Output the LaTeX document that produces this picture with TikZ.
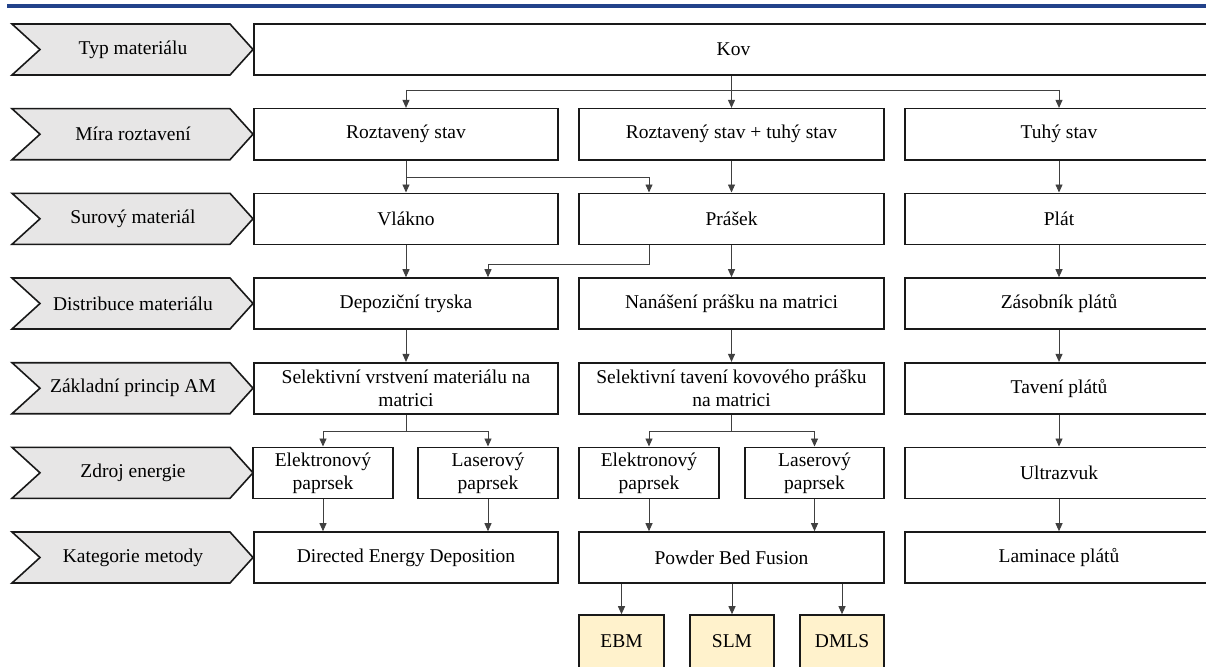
\documentclass[tikz,border=0pt]{standalone}
\usepackage{fontspec}
\setmainfont{Liberation Serif}
\usetikzlibrary{arrows.meta,calc}
\definecolor{chevgray}{HTML}{E7E6E6}
\definecolor{methyellow}{HTML}{FFF2CC}
\definecolor{topblue}{HTML}{22428A}
\begin{document}
\begin{tikzpicture}[x=1pt,y=-1pt,
  font=\fontsize{19.5}{23}\selectfont,
  box/.style={draw=black!90, line width=1.6pt, fill=white, minimum height=51pt, inner sep=2pt, align=center},
  chev/.style={draw=black!90, line width=1.6pt, fill=chevgray, line join=miter},
  conn/.style={draw=black!75, line width=0.9pt},
  arr/.style={conn, -{Triangle[width=7pt,length=8pt]}},
  meth/.style={box, fill=methyellow, minimum height=53pt}]
\useasboundingbox (0,0) rectangle (1206,666);
\clip (0,0) rectangle (1206,666);
\fill[white] (0,0) rectangle (1206,666);
% top rule
\draw[topblue, line width=4pt] (7,6) -- (1206,6);
% chevrons
\foreach \i/\t/\txt in {1/24/Typ materiálu, 2/108.7/Míra roztavení, 3/193.3/Surový materiál,
  4/278/Distribuce materiálu, 5/362.7/Základní princip AM, 6/447.3/Zdroj energie, 7/532/Kategorie metody}{
  \draw[chev] (12,\t) -- (230,\t) -- (253,\t+25.5) -- (230,\t+51) -- (12,\t+51) -- (40,\t+25.5) -- cycle;
  \node (l\i) at (133,\t+25.5) {\txt};
}
% row 1
\node[box, minimum width=959pt] (kov) at (733.5,49.5) {Kov};
% row 2
\node[box, minimum width=304pt] (m1) at (406,134.2) {Roztavený stav};
\node[box, minimum width=305pt] (m2) at (731.5,134.2) {Roztavený stav + tuhý stav};
\node[box, minimum width=308pt] (m3) at (1059,134.2) {Tuhý stav};
% row 3
\node[box, minimum width=304pt] (s1) at (406,218.8) {Vlákno};
\node[box, minimum width=305pt] (s2) at (731.5,218.8) {Prášek};
\node[box, minimum width=308pt] (s3) at (1059,218.8) {Plát};
% row 4
\node[box, minimum width=304pt] (d1) at (406,303.5) {Depoziční tryska};
\node[box, minimum width=305pt] (d2) at (731.5,303.5) {Nanášení prášku na matrici};
\node[box, minimum width=308pt] (d3) at (1059,303.5) {Zásobník plátů};
% row 5
\node[box, minimum width=304pt] (p1) at (406,388.2) {Selektivní vrstvení materiálu na\\matrici};
\node[box, minimum width=305pt] (p2) at (731.5,388.2) {Selektivní tavení kovového prášku\\na matrici};
\node[box, minimum width=308pt] (p3) at (1059,388.2) {Tavení plátů};
% row 6
\node[box, minimum width=140pt] (e1a) at (323,472.8) {Elektronový\\paprsek};
\node[box, minimum width=140pt] (e1b) at (488,472.8) {Laserový\\paprsek};
\node[box, minimum width=140pt] (e2a) at (649,472.8) {Elektronový\\paprsek};
\node[box, minimum width=139pt] (e2b) at (814.5,472.8) {Laserový\\paprsek};
\node[box, minimum width=308pt] (e3) at (1059,472.8) {Ultrazvuk};
% row 7
\node[box, minimum width=304pt] (k1) at (406,557.5) {Directed Energy Deposition};
\node[box, minimum width=305pt] (k2) at (731.5,557.5) {Powder Bed Fusion};
\node[box, minimum width=308pt] (k3) at (1059,557.5) {Laminace plátů};
% methods
\node[meth, minimum width=85pt] (b1) at (621.5,641.5) {EBM};
\node[meth, minimum width=84pt] (b2) at (732,641.5) {SLM};
\node[meth, minimum width=84pt] (b3) at (842,641.5) {DMLS};
% connectors
\coordinate (kb) at (731.5,90);
\draw[conn] (kov.south -| kb) -- (kb);
\draw[conn] (m1.north |- kb) -- (m3.north |- kb);
\foreach \n in {m1,m2,m3} \draw[arr] (\n.north |- kb) -- (\n.north);
\draw[arr] (m1.south) -- (s1.north);
\draw[arr] (m1.south) ++(0,17) -| (s2.north -| e2a);
\draw[arr] (m2.south) -- (s2.north);
\draw[arr] (m3.south) -- (s3.north);
\draw[arr] (s1.south) -- (d1.north);
\draw[arr] (s2.south -| e2a) -- ++(0,19) -| (d1.north -| e1b);
\draw[arr] (s2.south) -- (d2.north);
\draw[arr] (s3.south) -- (d3.north);
\draw[arr] (d1.south) -- (p1.north);
\draw[arr] (d2.south) -- (p2.north);
\draw[arr] (d3.south) -- (p3.north);
\draw[conn] (p1.south) -- ++(0,17) coordinate (pb1);
\draw[arr] (pb1) -| (e1a.north);
\draw[arr] (pb1) -| (e1b.north);
\draw[conn] (p2.south) -- ++(0,17) coordinate (pb2);
\draw[arr] (pb2) -| (e2a.north);
\draw[arr] (pb2) -| (e2b.north);
\draw[arr] (p3.south) -- (e3.north);
\draw[arr] (e1a.south) -- (k1.north -| e1a.south);
\draw[arr] (e1b.south) -- (k1.north -| e1b.south);
\draw[arr] (e2a.south) -- (k2.north -| e2a.south);
\draw[arr] (e2b.south) -- (k2.north -| e2b.south);
\draw[arr] (e3.south) -- (k3.north);
\foreach \b in {b1,b2,b3} \draw[arr] (k2.south -| \b.north) -- (\b.north);
\end{tikzpicture}
\end{document}
